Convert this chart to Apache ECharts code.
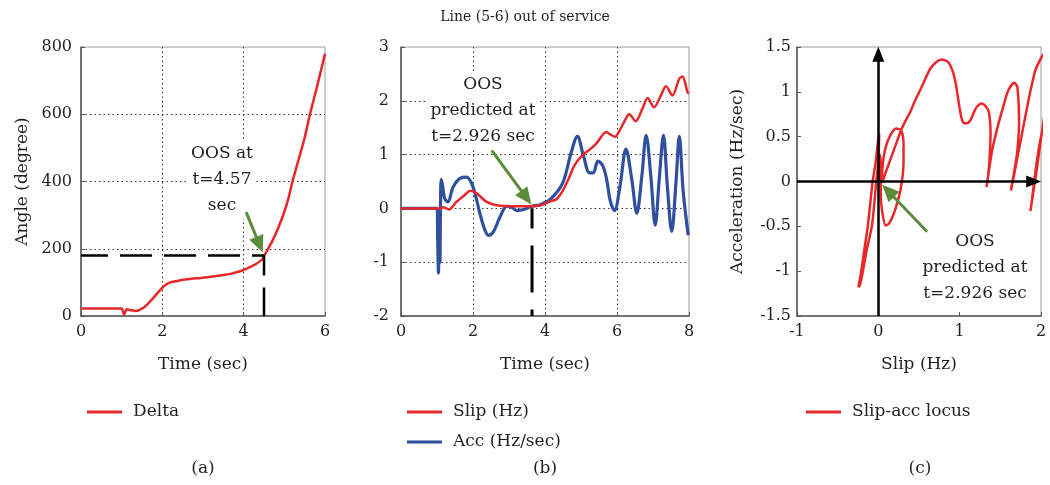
<!DOCTYPE html>
<html><head><meta charset="utf-8">
<script src="https://cdn.jsdelivr.net/npm/echarts@6/dist/echarts.min.js"></script>
<style>html,body{margin:0;padding:0;background:#fff}#c{width:1050px;height:485px}</style>
</head><body><div id="c"></div>
<script>
// ---------------- data ----------------
const chartTitle = 'Line (5-6) out of service';
const panelLabels = ['(a)', '(b)', '(c)'];

// Panel (a): rotor angle
const timeA  = [0,0.5,1.0,1.03,1.06,1.09,1.12,1.2,1.35,1.5,1.61,1.75,1.94,2.05,2.19,2.4,2.6,3.0,3.34,3.7,3.99,4.2,4.32,4.45,4.51,4.57,4.7,4.85,5.0,5.1,5.2,5.35,5.5,5.63,5.8,6.0];
const deltaA = [22,22,22,15,4,12,20,18,15,22,32,50,76,90,100,105,109,114,119,126,136,148,156,168,180,193,222,262,310,350,400,465,530,600,680,780];
const oosA = [4.5, 180];           // dashed guide corner (t, angle)
const arrowA = [[4.06, 309], [4.39, 212]];
const noteA = 'OOS at\nt=4.57\nsec';

// Panel (b): slip and acceleration
const timeSlip = [0,1.1,1.17,1.33,1.54,1.77,1.93,2.1,2.38,2.66,3.03,3.6,3.88,4.15,4.32,4.51,4.69,4.78,4.9,5.06,5.25,5.43,5.56,5.7,5.8,5.95,6.05,6.2,6.34,6.52,6.71,6.85,7.03,7.22,7.36,7.54,7.73,7.82,7.96,8.0];
const slipB    = [0,0,0.02,-0.02,0.12,0.25,0.33,0.28,0.12,0.06,0.04,0.04,0.06,0.13,0.17,0.35,0.6,0.75,0.88,1.0,1.1,1.21,1.33,1.42,1.38,1.33,1.42,1.61,1.75,1.62,1.86,2.05,1.88,2.1,2.27,2.1,2.41,2.45,2.16,2.14];
const timeAcc  = [0,1.0,1.02,1.04,1.06,1.08,1.1,1.12,1.16,1.21,1.3,1.45,1.64,1.82,2.0,2.19,2.33,2.43,2.57,2.75,2.94,3.08,3.22,3.41,3.64,3.87,4.15,4.49,4.72,4.9,5.06,5.24,5.34,5.47,5.6,5.71,5.81,5.93,6.08,6.25,6.41,6.55,6.69,6.81,6.94,7.06,7.18,7.29,7.4,7.52,7.64,7.73,7.84,7.98];
const accB     = [0,0,-0.6,-1.2,-0.3,-1.0,0.2,0.54,0.4,0.19,0.12,0.4,0.56,0.58,0.4,-0.09,-0.4,-0.5,-0.43,-0.16,0.04,0.02,-0.04,-0.02,0.04,0.07,0.17,0.47,1.02,1.34,1.0,0.66,0.66,0.88,0.8,0.55,0.15,-0.04,0.4,1.1,0.54,-0.09,0.6,1.36,0.6,-0.31,0.6,1.36,0.4,-0.43,0.5,1.34,0.3,-0.5];
const oosTimeB = 3.64;
const arrowB = [[2.52, 1.08], [3.48, 0.2]];
const noteB = 'OOS\npredicted at\nt=2.926 sec';

// Panel (c): slip-acceleration locus
const slipC = [0,0.005,0.01,-0.01,-0.035,-0.07,-0.1,-0.13,-0.17,-0.21,-0.235,-0.245,-0.225,-0.19,-0.14,-0.08,-0.05,-0.025,0.0,0.02,0.03,0.03,0.05,0.09,0.13,0.19,0.25,0.29,0.31,0.31,0.28,0.22,0.15,0.09,0.055,0.045,0.05,0.09,0.15,0.21,0.27,0.33,0.39,0.45,0.515,0.58,0.64,0.71,0.78,0.86,0.925,0.96,0.99,1.02,1.05,1.09,1.13,1.17,1.21,1.27,1.32,1.36,1.38,1.37,1.36,1.345,1.33,1.36,1.4,1.45,1.5,1.55,1.6,1.67,1.71,1.73,1.71,1.68,1.63,1.67,1.71,1.77,1.83,1.88,1.93,1.98,2.03,2.08,2.05,2.0,1.95,1.9,1.87,1.89,1.93,1.97,2.0,2.04];
const accC  = [0,0.3,0.53,0.4,0.2,0.0,-0.25,-0.5,-0.75,-1.0,-1.13,-1.18,-1.15,-1.0,-0.75,-0.5,-0.25,0.0,0.2,0.3,0.15,-0.15,-0.35,-0.49,-0.47,-0.36,-0.18,0.0,0.22,0.42,0.57,0.59,0.52,0.38,0.2,0.05,0.0,0.1,0.25,0.4,0.55,0.67,0.77,0.9,1.02,1.15,1.26,1.33,1.36,1.33,1.2,1.05,0.87,0.72,0.65,0.65,0.68,0.76,0.83,0.87,0.84,0.77,0.53,0.3,0.16,0.03,-0.06,0.12,0.35,0.55,0.72,0.88,1.02,1.1,1.05,0.65,0.35,0.16,-0.1,0.08,0.27,0.55,0.83,1.05,1.24,1.34,1.42,1.2,0.8,0.48,0.15,-0.15,-0.33,-0.2,0.1,0.35,0.5,0.65];
const arrowC = [[0.6, -0.56], [0.12, -0.105]];
const noteC = 'OOS\npredicted at\nt=2.926 sec';

// ---------------- chart ----------------
const FONT = 'DejaVu Serif';
const RED = '#e8272b', BLUE = '#2f4f9f', GREEN = '#5b8c39', TXT = '#231f20';
const zip = (a, b) => a.map((x, i) => [x, b[i]]);

const grids = [
  {left: 81, top: 47, width: 244, height: 269},
  {left: 401, top: 47, width: 288, height: 269},
  {left: 797, top: 47, width: 244, height: 269}
].map(g => Object.assign({show: true, borderColor: '#9a9a9a', borderWidth: 1, backgroundColor: 'transparent'}, g));

const split = {show: true, showMinLine: false, showMaxLine: false, lineStyle: {type: [1.5, 3], color: '#333', width: 1}};
function axis(gi, min, max, interval, name, opts) {
  return Object.assign({
    type: 'value', gridIndex: gi, min, max, interval, name, nameLocation: 'middle',
    nameTextStyle: {fontFamily: FONT, fontSize: 17, color: TXT},
    axisLine: {show: true, onZero: false, lineStyle: {color: '#555', width: 1.5}},
    axisTick: {show: true, inside: true, length: 4, lineStyle: {color: '#555'}},
    axisLabel: {fontFamily: FONT, fontSize: 16, color: TXT, margin: 8},
    splitLine: split
  }, opts || {});
}

const arrowLine = (pair, color, size) => ({
  silent: true, symbol: ['none', 'triangle'], symbolSize: size, animation: false,
  label: {show: false}, emphasis: {disabled: true},
  lineStyle: {color, width: 3, type: 'solid'},
  data: [[{coord: pair[0]}, {coord: pair[1]}]]
});

const legendBase = {
  orient: 'vertical', icon: 'rect', itemWidth: 35, itemHeight: 3, itemGap: 10, selectedMode: false,
  textStyle: {fontFamily: FONT, fontSize: 17, color: TXT, lineHeight: 20, padding: [0, 0, 0, 6]}
};

const txt = (x, y, text, bg) => ({
  type: 'text', x, y, silent: true, z: 1,
  style: Object.assign({text, fill: TXT, font: '17px "DejaVu Serif"', align: 'center', verticalAlign: 'middle',
    textAlign: 'center', textVerticalAlign: 'middle', lineHeight: 26},
    bg ? {backgroundColor: '#fff', padding: [0, 3]} : {})
});

const option = {
  animation: false,
  backgroundColor: '#fff',
  title: {text: chartTitle, left: 'center', top: 5, textStyle: {fontFamily: FONT, fontSize: 14, fontWeight: 'normal', color: TXT}},
  grid: grids,
  xAxis: [
    axis(0, 0, 6, 2, 'Time (sec)', {nameGap: 40}),
    axis(1, 0, 8, 2, 'Time (sec)', {nameGap: 40}),
    axis(2, -1, 2, 1, 'Slip (Hz)', {nameGap: 40, splitLine: {show: false}})
  ],
  yAxis: [
    axis(0, 0, 800, 200, 'Angle (degree)', {nameGap: 50, axisLabel: {fontFamily: FONT, fontSize: 16, color: TXT, margin: 9}}),
    axis(1, -2, 3, 1, '', {axisLabel: {fontFamily: FONT, fontSize: 16, color: TXT, margin: 12}}),
    axis(2, -1.5, 1.5, 0.5, 'Acceleration (Hz/sec)', {nameGap: 51, splitLine: {show: false}, axisLabel: {fontFamily: FONT, fontSize: 16, color: TXT, margin: 6}})
  ],
  legend: [
    Object.assign({}, legendBase, {data: ['Delta'], left: 82, top: 397}),
    Object.assign({}, legendBase, {data: ['Slip (Hz)', 'Acc (Hz/sec)'], left: 402, top: 397}),
    Object.assign({}, legendBase, {data: ['Slip-acc locus'], left: 801, top: 397})
  ],
  series: [
    {type: 'line', name: 'Delta', xAxisIndex: 0, yAxisIndex: 0, data: zip(timeA, deltaA),
     symbol: 'none', smooth: 0.2, color: RED, lineStyle: {color: RED, width: 2.5}, z: 3},
    {type: 'line', name: 'guideA', xAxisIndex: 0, yAxisIndex: 0, silent: true,
     data: [[0, oosA[1]], [oosA[0], oosA[1]], [oosA[0], 0]],
     symbol: 'none', lineStyle: {color: '#000', width: 2.5, type: [32, 12], dashOffset: 5}, z: 4,
     markLine: arrowLine(arrowA, GREEN, [15, 17])},

    {type: 'line', name: 'Acc (Hz/sec)', xAxisIndex: 1, yAxisIndex: 1, data: zip(timeAcc, accB),
     symbol: 'none', smooth: 0.35, color: BLUE, lineStyle: {color: BLUE, width: 3.2}, z: 2},
    {type: 'line', name: 'Slip (Hz)', xAxisIndex: 1, yAxisIndex: 1, data: zip(timeSlip, slipB),
     symbol: 'none', smooth: 0.3, color: RED, lineStyle: {color: RED, width: 2.5}, z: 3},
    {type: 'line', name: 'guideB', xAxisIndex: 1, yAxisIndex: 1, silent: true,
     data: [[oosTimeB, 0], [oosTimeB, -2]],
     symbol: 'none', lineStyle: {color: '#000', width: 3, type: [47, 17], dashOffset: 27}, z: 4,
     markLine: arrowLine(arrowB, GREEN, [15, 17])},

    {type: 'line', name: 'Slip-acc locus', xAxisIndex: 2, yAxisIndex: 2, data: zip(slipC, accC),
     symbol: 'none', smooth: 0.25, clip: true, color: RED, lineStyle: {color: RED, width: 2.5}, z: 3,
     markLine: arrowLine(arrowC, GREEN, [15, 17])},
    {type: 'line', name: 'axesC', xAxisIndex: 2, yAxisIndex: 2, silent: true, data: [], z: 4,
     markLine: {silent: true, symbol: ['none', 'triangle'], symbolSize: [12, 15], label: {show: false},
       lineStyle: {color: '#000', width: 2.5, type: 'solid'},
       data: [[{coord: [-1, 0]}, {coord: [1.91, 0]}], [{coord: [0, -1.5]}, {coord: [0, 1.42]}]]}}
  ],
  graphic: [
    txt(222, 180, noteA, true),
    txt(483, 111, noteB, true),
    txt(975, 268, noteC, false),
    txt(203, 469, panelLabels[0]),
    txt(545, 469, panelLabels[1]),
    txt(920, 469, panelLabels[2])
  ]
};

const chart = echarts.init(document.getElementById('c'), null, {renderer: 'canvas'});
chart.setOption(option);
</script>
</body></html>
